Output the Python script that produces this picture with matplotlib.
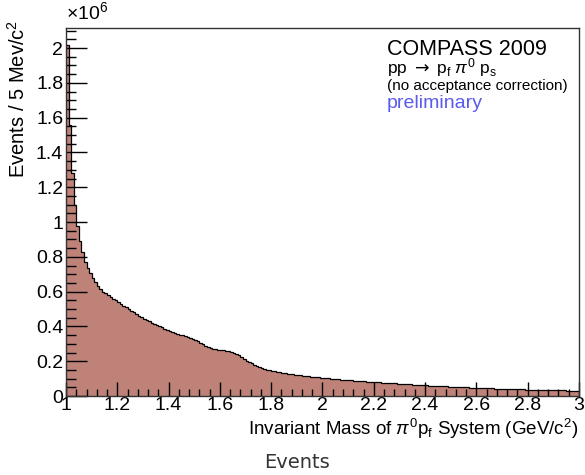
import numpy as np
import matplotlib
matplotlib.use('Agg')
import matplotlib.pyplot as plt
from matplotlib.ticker import MultipleLocator

plt.rcParams['font.family'] = ['Liberation Sans', 'DejaVu Sans']
plt.rcParams['mathtext.fontset'] = 'custom'
plt.rcParams['mathtext.rm'] = 'Liberation Sans'
plt.rcParams['mathtext.it'] = 'Liberation Sans:italic'
plt.rcParams['mathtext.sf'] = 'DejaVu Sans'

# binning of the mass histogram (GeV/c^2)
mass_lo = 1.0
mass_hi = 3.0
bin_width = 0.01

# counts per bin, in units of 1e6
counts = [
    2.02, 1.56, 1.28, 1.10, 0.98, 0.89, 0.83, 0.77, 0.735, 0.705,
    0.68, 0.655, 0.635, 0.615, 0.60, 0.59, 0.58, 0.57, 0.56, 0.55,
    0.54, 0.53, 0.52, 0.51, 0.50, 0.49, 0.48, 0.47, 0.46, 0.452,
    0.445, 0.438, 0.43, 0.422, 0.414, 0.407, 0.40, 0.394, 0.387, 0.381,
    0.375, 0.369, 0.363, 0.357, 0.353, 0.348, 0.344, 0.340, 0.335, 0.330,
    0.323, 0.315, 0.306, 0.297, 0.289, 0.282, 0.277, 0.273, 0.270, 0.267,
    0.265, 0.263, 0.261, 0.258, 0.255, 0.250, 0.243, 0.234, 0.224, 0.214,
    0.204, 0.195, 0.187, 0.179, 0.172, 0.166, 0.161, 0.156, 0.152, 0.148,
    0.145, 0.142, 0.139, 0.136, 0.133, 0.131, 0.128, 0.126, 0.124, 0.122,
    0.120, 0.118, 0.116, 0.114, 0.1125, 0.111, 0.1095, 0.108, 0.1065, 0.105,
    0.1035, 0.102, 0.1008, 0.0995, 0.0982, 0.097, 0.0958, 0.0946, 0.0934, 0.0922,
    0.091, 0.0899, 0.0888, 0.0877, 0.0866, 0.0855, 0.0844, 0.0833, 0.0822, 0.0811,
    0.080, 0.0790, 0.0780, 0.0770, 0.0760, 0.0750, 0.0740, 0.0730, 0.0720, 0.0710,
    0.0700, 0.0691, 0.0682, 0.0673, 0.0664, 0.0655, 0.0646, 0.0637, 0.0628, 0.0619,
    0.0610, 0.0602, 0.0594, 0.0586, 0.0578, 0.0570, 0.0563, 0.0556, 0.0549, 0.0542,
    0.0535, 0.0528, 0.0521, 0.0514, 0.0507, 0.0500, 0.0494, 0.0488, 0.0482, 0.0476,
    0.0470, 0.0464, 0.0458, 0.0452, 0.0446, 0.0440, 0.0435, 0.0430, 0.0425, 0.0420,
    0.0415, 0.0410, 0.0405, 0.0400, 0.0395, 0.0390, 0.0386, 0.0382, 0.0378, 0.0374,
    0.0370, 0.0366, 0.0362, 0.0358, 0.0354, 0.0350, 0.0346, 0.0342, 0.0338, 0.0334,
    0.0330, 0.0327, 0.0324, 0.0321, 0.0318, 0.0315, 0.0312, 0.0309, 0.0306, 0.0303,
]

x_ticklabels = ['1', '1.2', '1.4', '1.6', '1.8', '2', '2.2', '2.4', '2.6', '2.8', '3']
y_ticklabels = ['0', '0.2', '0.4', '0.6', '0.8', '1', '1.2', '1.4', '1.6', '1.8', '2']

edges = mass_lo + bin_width * np.arange(len(counts) + 1)

fig = plt.figure(figsize=(5.85, 4.75), dpi=100)
ax = fig.add_axes([0.1128, 0.1663, 0.8769, 0.7747])

ax.stairs(counts, edges, fill=True, color='#bf8278', lw=0)
ax.stairs(counts, edges, color='black', lw=0.9, baseline=None)

ax.set_xlim(mass_lo, mass_hi)
ax.set_ylim(0, 2.115)

ax.xaxis.set_minor_locator(MultipleLocator(0.04))
ax.yaxis.set_minor_locator(MultipleLocator(0.05))
ax.set_xticks(np.linspace(1.0, 3.0, len(x_ticklabels)))
ax.set_xticklabels(x_ticklabels)
ax.set_yticks(np.linspace(0, 2.0, len(y_ticklabels)))
ax.set_yticklabels(y_ticklabels)

ax.tick_params(axis='x', which='major', direction='in', length=10, width=1, labelsize=14, pad=1)
ax.tick_params(axis='x', which='minor', direction='in', length=5, width=1)
ax.tick_params(axis='y', which='major', direction='in', length=15, width=1, labelsize=14, pad=2)
ax.tick_params(axis='y', which='minor', direction='in', length=7, width=1)
for s in ax.spines.values():
    s.set_color('#333333')
    s.set_linewidth(1.0)

fig.text(578 / 585, 1 - 435 / 475,
         r'Invariant Mass of $\pi^0\mathrm{p}_\mathrm{f}$ System (GeV/c$^2$)',
         fontsize=13.5, ha='right', va='baseline')
fig.text(18 / 585, 1 - 20 / 475, r'Events / 5 Mev/c$^2$', fontsize=14.5,
         rotation=90, ha='center', va='top')

fig.text(66 / 585, 1 - 23 / 475, r'$\times$10$^6$', fontsize=14, ha='left', va='bottom')

fig.text(387 / 585, 1 - 55 / 475, 'COMPASS 2009', fontsize=15.5, ha='left', va='baseline')
fig.text(387 / 585, 1 - 73 / 475,
         r'pp $\mathsf{\rightarrow}$ p$_\mathrm{f}$ $\pi^0$ p$_\mathrm{s}$',
         fontsize=12.5, ha='left', va='baseline')
fig.text(387 / 585, 1 - 90 / 475, '(no acceptance correction)', fontsize=11,
         ha='left', va='baseline')
fig.text(387 / 585, 1 - 108 / 475, 'preliminary', fontsize=14, ha='left',
         va='baseline', color='#5a5aee')

fig.text(297 / 585, 1 - 468 / 475, 'Events', fontsize=14, ha='center', va='baseline',
         family='DejaVu Sans', color='#333333')

fig.savefig('out.png', dpi=100)
